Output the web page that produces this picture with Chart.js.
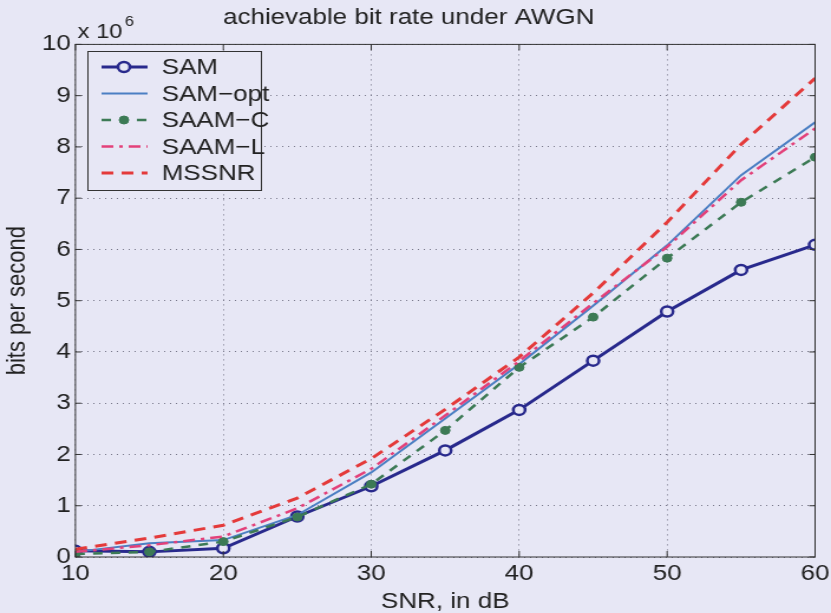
<!DOCTYPE html>
<html>
<head>
<meta charset="utf-8">
<script src="https://cdn.jsdelivr.net/npm/chart.js@4"></script>
<style>
  body { margin: 0; background: #e7e7f5; overflow: hidden; }
  /* the original figure is stretched sideways, so draw narrow and widen */
  #wrap { width: 704px; height: 613px; position: relative; transform: scaleX(1.1804); transform-origin: 0 0; }
</style>
</head>
<body>
<div id="wrap"><canvas id="chart"></canvas></div>
<script>
// SNR values in dB
const snr = [10, 15, 20, 25, 30, 35, 40, 45, 50, 55, 60]

// bit rates, in units of 10^6 bits per second
const sam     = [0.12, 0.10, 0.17, 0.79, 1.38, 2.08, 2.87, 3.83, 4.79, 5.60, 6.09]
const samOpt  = [0.10, 0.27, 0.33, 0.82, 1.65, 2.70, 3.76, 4.90, 6.08, 7.45, 8.48]
const saamC   = [0.06, 0.10, 0.30, 0.78, 1.42, 2.47, 3.70, 4.68, 5.83, 6.92, 7.80]
const saamL   = [0.10, 0.23, 0.40, 0.95, 1.72, 2.76, 3.82, 4.95, 6.05, 7.35, 8.36]
const mssnr   = [0.15, 0.37, 0.62, 1.15, 1.92, 2.88, 3.90, 5.15, 6.53, 8.05, 9.34]

const xTicks = [10, 20, 30, 40, 50, 60]
const yTicks = [0, 1, 2, 3, 4, 5, 6, 7, 8, 9, 10]

const font = '"Liberation Sans", Arial, sans-serif'
const bg = '#e7e7f5'
const ink = '#222'

function pts(ys){
    return snr.map((x, i) => ({x: x, y: ys[i]}))
}

const series = [
    {label: 'SAM', data: sam, color: '#28298c', width: 3, dash: [], marker: 'open'},
    {label: 'SAM\u2212opt', data: samOpt, color: '#4b7fc3', width: 2, dash: [], marker: null},
    {label: 'SAAM\u2212C', data: saamC, color: '#3c7a55', width: 2.5, dash: [8, 7], marker: 'dot'},
    {label: 'SAAM\u2212L', data: saamL, color: '#e3417a', width: 2.5, dash: [10, 5, 3, 5], marker: null},
    {label: 'MSSNR', data: mssnr, color: '#e43a3a', width: 3, dash: [10, 7], marker: null},
]

const datasets = series.map((s, i) => ({
    label: s.label,
    data: pts(s.data),
    borderColor: s.color,
    borderWidth: s.width,
    borderDash: s.dash,
    tension: 0,
    fill: false,
    pointRadius: s.marker === 'open' ? 5 : (s.marker === 'dot' ? 4 : 0),
    pointBorderWidth: s.marker === 'open' ? 2.5 : 1,
    pointBorderColor: s.color,
    pointBackgroundColor: s.marker === 'open' ? bg : s.color,
    order: 5 - i
}))

// legend box, "x 10^6" multiplier, frame and inner ticks
const extras = {
    id: 'extras',
    afterDraw(chart) {
        const ctx = chart.ctx
        const area = chart.chartArea
        const xs = chart.scales.x, ys = chart.scales.y
        ctx.save()

        // frame + inward tick marks
        ctx.strokeStyle = '#333'
        ctx.lineWidth = 1
        ctx.setLineDash([])
        ctx.strokeRect(area.left, area.top, area.right - area.left, area.bottom - area.top)
        ctx.beginPath()
        yTicks.forEach(v => {
            const y = ys.getPixelForValue(v)
            ctx.moveTo(area.left, y); ctx.lineTo(area.left + 5, y)
            ctx.moveTo(area.right, y); ctx.lineTo(area.right - 5, y)
        })
        xTicks.forEach(v => {
            const x = xs.getPixelForValue(v)
            ctx.moveTo(x, area.bottom); ctx.lineTo(x, area.bottom - 6)
            ctx.moveTo(x, area.top); ctx.lineTo(x, area.top + 6)
        })
        ctx.stroke()

        // exponent label
        ctx.fillStyle = ink
        ctx.textBaseline = 'alphabetic'
        ctx.textAlign = 'left'
        ctx.font = '20px ' + font
        ctx.fillText('x 10', area.left + 2, area.top - 6)
        ctx.font = '14px ' + font
        ctx.fillText('6', area.left + 42, area.top - 18)

        // legend
        const lx = 74, ly = 51, lw = 147, lh = 139
        ctx.fillStyle = bg
        ctx.fillRect(lx, ly, lw, lh)
        ctx.strokeStyle = '#333'
        ctx.lineWidth = 1
        ctx.strokeRect(lx + 0.5, ly + 0.5, lw, lh)
        series.forEach((s, i) => {
            const y = ly + 16 + i * 26.5
            ctx.strokeStyle = s.color
            ctx.lineWidth = s.width
            ctx.setLineDash(s.dash)
            ctx.beginPath()
            ctx.moveTo(lx + 12, y)
            ctx.lineTo(lx + 51, y)
            ctx.stroke()
            ctx.setLineDash([])
            if (s.marker) {
                ctx.beginPath()
                ctx.arc(lx + 31, y, s.marker === 'open' ? 5 : 4, 0, Math.PI * 2)
                ctx.fillStyle = s.marker === 'open' ? bg : s.color
                ctx.fill()
                ctx.lineWidth = s.marker === 'open' ? 2.5 : 1
                ctx.strokeStyle = s.color
                ctx.stroke()
            }
            ctx.fillStyle = ink
            ctx.font = '22px ' + font
            ctx.textBaseline = 'middle'
            ctx.fillText(s.label, lx + 63, y + 1)
        })
        ctx.restore()
    }
}

const bgPlugin = {
    id: 'bg',
    beforeDraw(chart) {
        const ctx = chart.ctx
        ctx.save()
        ctx.fillStyle = bg
        ctx.fillRect(0, 0, chart.width, chart.height)
        ctx.restore()
    }
}

new Chart(document.getElementById('chart'), {
    type: 'line',
    data: {datasets: datasets},
    plugins: [bgPlugin, extras],
    options: {
        responsive: true,
        maintainAspectRatio: false,
        animation: false,
        layout: {padding: {top: 0, right: 13.5, left: 2, bottom: 0}},
        plugins: {
            legend: {display: false},
            tooltip: {enabled: false},
            title: {
                display: true,
                text: 'achievable bit rate under AWGN',
                color: ink,
                font: {family: font, size: 22, weight: 'normal'},
                padding: {top: 5, bottom: 13}
            }
        },
        scales: {
            x: {
                type: 'linear',
                min: 10,
                max: 60,
                afterBuildTicks: axis => { axis.ticks = xTicks.map(v => ({value: v})) },
                // last label may hang into the layout padding
                afterFit: axis => { axis.paddingRight = 0 },
                ticks: {color: ink, font: {family: font, size: 22, lineHeight: 1}, padding: 6, maxRotation: 0},
                grid: {color: '#77778a', lineWidth: 1, drawTicks: false},
                border: {display: false, dash: [1, 4]},
                title: {display: true, text: 'SNR, in dB', color: ink, font: {family: font, size: 22, lineHeight: 1}, padding: {top: 0, bottom: 0}}
            },
            y: {
                min: 0,
                max: 10,
                afterBuildTicks: axis => { axis.ticks = yTicks.map(v => ({value: v})) },
                ticks: {color: ink, font: {family: font, size: 22}, padding: 4},
                grid: {color: '#77778a', lineWidth: 1, drawTicks: false},
                border: {display: false, dash: [1, 4]},
                title: {display: true, text: 'bits per second', color: ink, font: {family: font, size: 22}, padding: {top: 0, bottom: 3}}
            }
        }
    }
})
</script>
</body>
</html>
